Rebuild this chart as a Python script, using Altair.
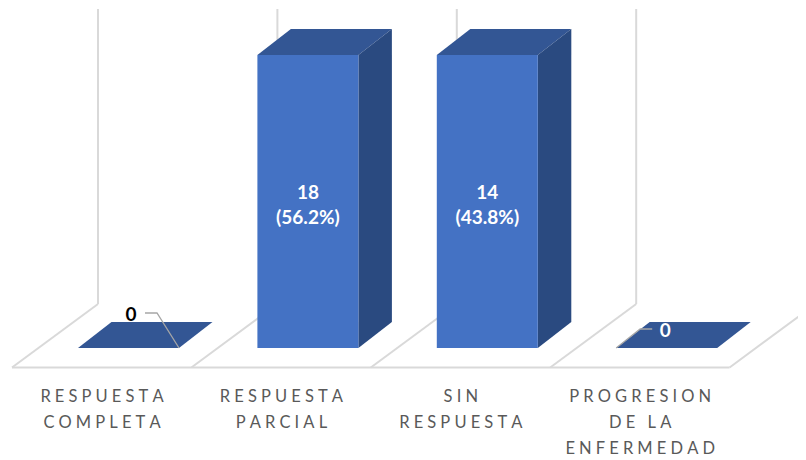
import altair as alt
import pandas as pd

# ---- values ----
categories = ["RESPUESTA COMPLETA", "RESPUESTA PARCIAL", "SIN RESPUESTA", "PROGRESION DE LA ENFERMEDAD"]
label_lines = [["RESPUESTA", "COMPLETA"], ["RESPUESTA", "PARCIAL"], ["SIN", "RESPUESTA"], ["PROGRESION", "DE LA", "ENFERMEDAD"]]
counts = [0, 18, 14, 0]
percents = [None, "56.2%", "43.8%", None]
# the two tall columns are drawn at the same height in the picture
drawn_heights = [0, 18, 18, 0]

# ---- scales: one unit in x is a category slot, one unit in y is a count ----
PX_CAT = 179.4
PX_VAL = 293 / 18
W, H = 790, 452
x_dom = [-4 / PX_CAT, (W - 4) / PX_CAT]
y_dom = [(348 - 460) / PX_VAL, (348 - 8) / PX_VAL]


def X(f):
    return alt.X(f, type="quantitative", scale=alt.Scale(domain=x_dom, nice=False, zero=False), axis=None)


def Y(f):
    return alt.Y(f, type="quantitative", scale=alt.Scale(domain=y_dom, nice=False, zero=False), axis=None)


def dxu(px):
    return px / PX_CAT


def dyu(px):
    return px / PX_VAL


BAR_OFF = dxu(66)
BAR_W = dxu(101)
DEPTH_X = dxu(33.5)
DEPTH_Y = dyu(26)
FLOOR_Y = dyu(-19.5)
BACK_Y = dyu(44)
BACK_X = dxu(86)
WALL_TOP = dyu(339)

# floor and wall lines
seg = []
for i in range(5):
    seg.append(dict(x=i, x2=i + BACK_X, y=FLOOR_Y, y2=BACK_Y))
    if i < 4:
        seg.append(dict(x=i + BACK_X, x2=i + BACK_X, y=BACK_Y, y2=WALL_TOP))
seg.append(dict(x=0, x2=4, y=FLOOR_Y, y2=FLOOR_Y))
segments = pd.DataFrame(seg)

front, top_face, side = [], [], []
for i, h in enumerate(drawn_heights):
    l = i + BAR_OFF
    r = l + BAR_W
    top_face.append(dict(b=i, y=h, x=l, x2=r))
    top_face.append(dict(b=i, y=h + DEPTH_Y, x=l + DEPTH_X, x2=r + DEPTH_X))
    if h > 0:
        front.append(dict(x=l, x2=r, y=0, y2=h))
        side.append(dict(b=i, x=r, y=0, y2=h))
        side.append(dict(b=i, x=r + DEPTH_X, y=DEPTH_Y, y2=h + DEPTH_Y))

# leader lines for the zero labels
leaders = pd.DataFrame([
    dict(b=0, o=0, x=0 + dxu(133), y=dyu(35)),
    dict(b=0, o=1, x=0 + dxu(145), y=dyu(35)),
    dict(b=0, o=2, x=0 + BAR_OFF + BAR_W, y=0),
    dict(b=3, o=0, x=3 + dxu(102), y=dyu(19)),
    dict(b=3, o=1, x=3 + dxu(90), y=dyu(19)),
    dict(b=3, o=2, x=3 + BAR_OFF, y=0),
])

values = []
for i, (c, p, h) in enumerate(zip(counts, percents, drawn_heights)):
    if p:
        values.append(dict(t=f"{c}\n({p})", x=i + BAR_OFF + BAR_W / 2, y=h - dyu(144), color="#ffffff"))
zeros = pd.DataFrame([
    dict(t=str(counts[0]), x=0 + dxu(119), y=dyu(27), color="#000000"),
    dict(t=str(counts[3]), x=3 + dxu(115), y=dyu(11), color="#ffffff"),
])
SP = "\u2009\u200a\u200a"
WORD = "\u2003"
cat_text = []
for i, lines in enumerate(label_lines):
    t = "\n".join(WORD.join(SP.join(word) for word in line.split(" ")) for line in lines)
    cat_text.append(dict(t=t, x=i + dxu(90), y=dyu(-54)))

rules = alt.Chart(segments).mark_rule(color="#d9d9d9", strokeWidth=2, clip=True).encode(
    x=X("x"), x2="x2", y=Y("y"), y2="y2")
tops = alt.Chart(pd.DataFrame(top_face)).mark_area(orient="horizontal", color="#335694").encode(
    y=Y("y"), x=X("x"), x2="x2", detail="b:N")
sides = alt.Chart(pd.DataFrame(side)).mark_area(orient="vertical", color="#2a4a80").encode(
    x=X("x"), y=Y("y"), y2="y2", detail="b:N")
fronts = alt.Chart(pd.DataFrame(front)).mark_rect(color="#4472c4").encode(
    x=X("x"), x2="x2", y=Y("y"), y2="y2")
lead = alt.Chart(leaders).mark_line(color="#a6a6a6", strokeWidth=1.3).encode(
    x=X("x"), y=Y("y"), detail="b:N", order="o:Q")
val_text = alt.Chart(pd.DataFrame(values)).mark_text(
    font="Lato", fontWeight="bold", fontSize=19, align="center", baseline="alphabetic",
    lineBreak="\n", lineHeight=25, color="#ffffff").encode(x=X("x"), y=Y("y"), text="t:N")
zero_text = alt.Chart(zeros).mark_text(
    font="Lato", fontWeight="bold", fontSize=19, align="center", baseline="alphabetic").encode(
    x=X("x"), y=Y("y"), text="t:N", color=alt.Color("color:N", scale=None))
cat_marks = alt.Chart(pd.DataFrame(cat_text)).mark_text(
    font="Lato", fontSize=16.5, align="center", baseline="alphabetic", lineBreak="\n",
    lineHeight=26, color="#595959").encode(x=X("x"), y=Y("y"), text="t:N")

chart = alt.layer(rules, tops, sides, fronts, lead, val_text, zero_text, cat_marks).properties(
    width=W, height=H, padding=0, autosize=alt.AutoSizeParams(type="none")
).configure_view(stroke=None)

chart.save("out.html", embed_options={"renderer": "svg", "actions": False})
